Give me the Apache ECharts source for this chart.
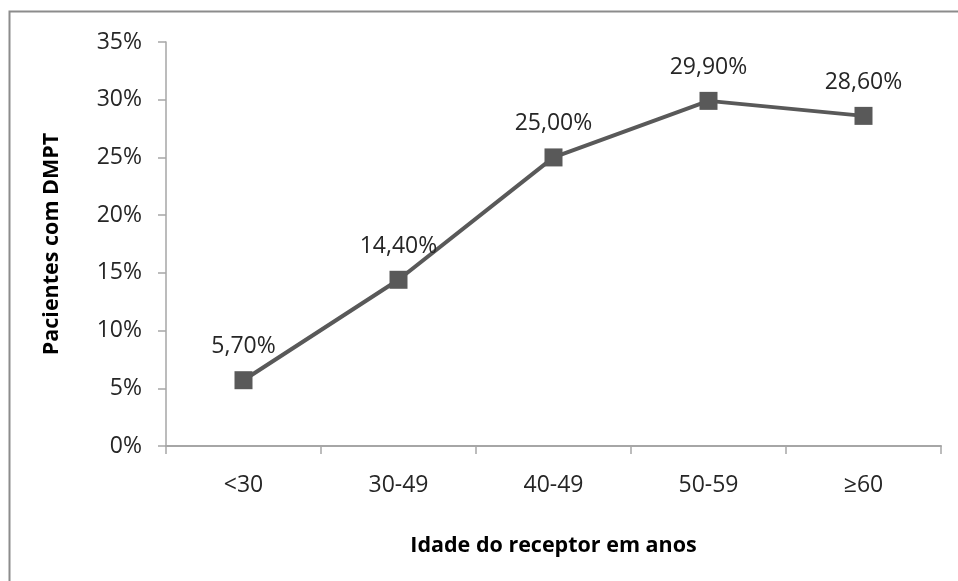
<!DOCTYPE html>
<html>
<head>
<meta charset="utf-8">
<script src="https://cdn.jsdelivr.net/npm/echarts@6/dist/echarts.min.js"></script>
<style>
  html, body { margin: 0; padding: 0; background: #fff; }
  #chart { width: 958px; height: 581px; }
</style>
</head>
<body>
<div id="chart"></div>
<script>
// Age groups of the recipient and share of patients with DMPT (%)
const categories = ['<30', '30-49', '40-49', '50-59', '≥60'];
const values = [5.7, 14.4, 25.0, 29.9, 28.6];
const yTicks = [0, 5, 10, 15, 20, 25, 30, 35];

const FONT = '"Open Sans", "Liberation Sans", sans-serif';
const LINE = '#595959';
const TEXT = '#262626';

const chart = echarts.init(document.getElementById('chart'));
chart.setOption({
  animation: false,
  backgroundColor: '#fff',
  textStyle: { fontFamily: FONT },
  graphic: [{
    type: 'rect',
    shape: { x: 9.5, y: 11.5, width: 980, height: 600 },
    style: { fill: 'none', stroke: '#8c8c8c', lineWidth: 2 },
    silent: true
  }],
  grid: { left: 166, right: 17, top: 42, bottom: 135 },
  xAxis: {
    type: 'category',
    data: categories,
    boundaryGap: true,
    name: 'Idade do receptor em anos',
    nameLocation: 'middle',
    nameGap: 89,
    nameTextStyle: { fontFamily: FONT, fontSize: 21.5, fontWeight: 'bold', color: '#000' },
    axisLine: { lineStyle: { color: '#a6a6a6', width: 2 } },
    axisTick: { show: true, length: 8, alignWithLabel: false, lineStyle: { color: '#a6a6a6', width: 1.5 } },
    axisLabel: { margin: 28, fontSize: 23, color: TEXT, fontFamily: FONT },
    splitLine: { show: false }
  },
  yAxis: {
    type: 'value',
    min: yTicks[0],
    max: yTicks[yTicks.length - 1],
    interval: yTicks[1] - yTicks[0],
    name: 'Pacientes com DMPT',
    nameLocation: 'middle',
    nameGap: 103,
    nameRotate: 90,
    nameTextStyle: { fontFamily: FONT, fontSize: 21.5, fontWeight: 'bold', color: '#000' },
    axisLine: { show: true, lineStyle: { color: '#a6a6a6', width: 1.5 } },
    axisTick: { show: true, length: 8, lineStyle: { color: '#a6a6a6', width: 1.5 } },
    axisLabel: { margin: 24, fontSize: 23, color: TEXT, fontFamily: FONT, formatter: v => v + '%' },
    splitLine: { show: false }
  },
  series: [{
    type: 'line',
    data: values,
    symbol: 'rect',
    symbolSize: 18,
    lineStyle: { color: LINE, width: 4 },
    itemStyle: { color: LINE },
    label: {
      show: true,
      position: 'top',
      distance: 13,
      fontSize: 23,
      color: TEXT,
      fontFamily: FONT,
      formatter: p => p.value.toFixed(2).replace('.', ',') + '%'
    }
  }]
});
</script>
</body>
</html>
